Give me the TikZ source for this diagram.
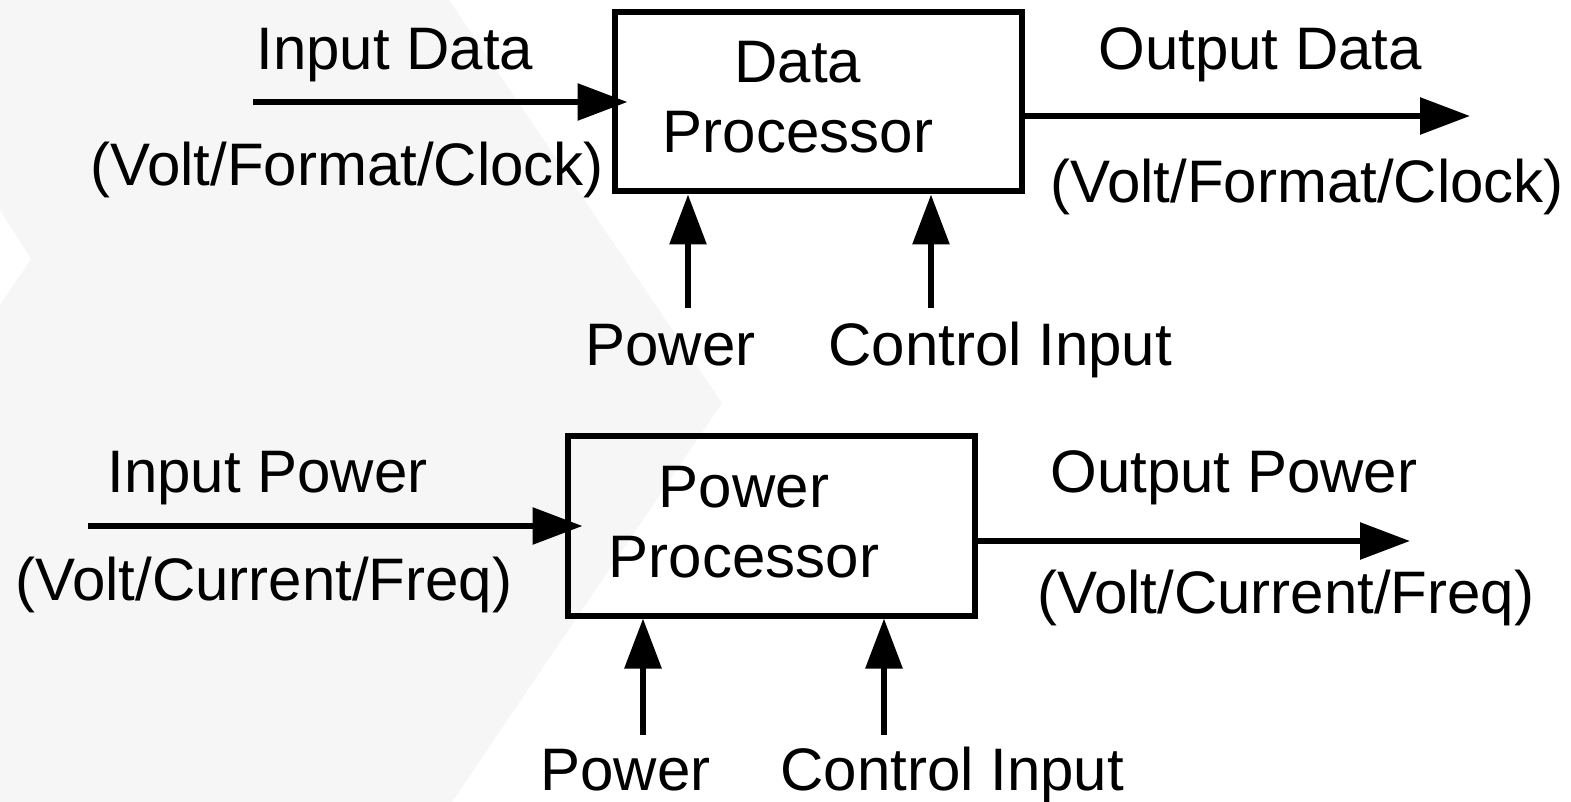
\documentclass[tikz,border=0pt]{standalone}
\usepackage{fontspec}
\setmainfont{Liberation Sans}
\usepackage{tikz}
\usetikzlibrary{arrows.meta}
\definecolor{chevgray}{RGB}{246,246,246}
\tikzset{
  box/.style={draw, line width=3pt, minimum width=203.5pt, minimum height=89.5pt, inner sep=0pt},
  boxtxt/.style={align=center, inner sep=0pt},
  lbl/.style={inner sep=0pt, anchor=base west},
  flow/.style={-{Triangle[length=25pt, width=18pt]}, line width=3pt},
}

\begin{document}
\begin{tikzpicture}[x=0.5pt, y=-0.5pt, font=\fontsize{30pt}{35pt}\selectfont]
  \useasboundingbox (0,0) rectangle (1571,802);
  \fill[chevgray] (0,0) -- (449,0) -- (722,403) -- (452,802) -- (0,802) -- (0,305) -- (31,259) -- (0,210) -- cycle;

  \node[box] (dp) at (818,102) {};
  \node[boxtxt] (dptxt) at (798,97) {Data\\Processor};
  \node[box] (pp) at (771,526) {};
  \node[boxtxt] (pptxt) at (744,522) {Power\\Processor};

  \coordinate (din) at (253,102);
  \coordinate (dout) at (1470,116);
  \coordinate (dpwr) at (688,308);
  \coordinate (dctl) at (931,308);
  \coordinate (pin) at (88,526);
  \coordinate (pout) at (1410,541);
  \coordinate (ppwr) at (643,735);
  \coordinate (pctl) at (884,735);

  \node[lbl] (indata) at (256,70) {Input Data};
  \node[lbl] (infmt) at (90,186) {(Volt/Format/Clock)};
  \node[lbl] (outdata) at (1098,70) {Output Data};
  \node[lbl] (outfmt) at (1050,203) {(Volt/Format/Clock)};
  \node[lbl] (dpwrlbl) at (585,366) {Power};
  \node[lbl] (dctllbl) at (828,366) {Control Input};
  \node[lbl] (inpwr) at (107,493) {Input Power};
  \node[lbl] (involt) at (15,600) {(Volt/Current/Freq)};
  \node[lbl] (outpwr) at (1050,493) {Output Power};
  \node[lbl] (outvolt) at (1037,613) {(Volt/Current/Freq)};
  \node[lbl] (ppwrlbl) at (540,790) {Power};
  \node[lbl] (pctllbl) at (780,790) {Control Input};

  \draw[flow] (din) -- ([xshift=8pt]dp.west);
  \draw[flow] (dout -| dp.east) -- (dout);
  \draw[flow] (dpwr) -- (dpwr |- dp.south);
  \draw[flow] (dctl) -- (dctl |- dp.south);
  \draw[flow] (pin) -- ([xshift=9pt]pp.west);
  \draw[flow] (pout -| pp.east) -- (pout);
  \draw[flow] (ppwr) -- (ppwr |- pp.south);
  \draw[flow] (pctl) -- (pctl |- pp.south);
\end{tikzpicture}
\end{document}
